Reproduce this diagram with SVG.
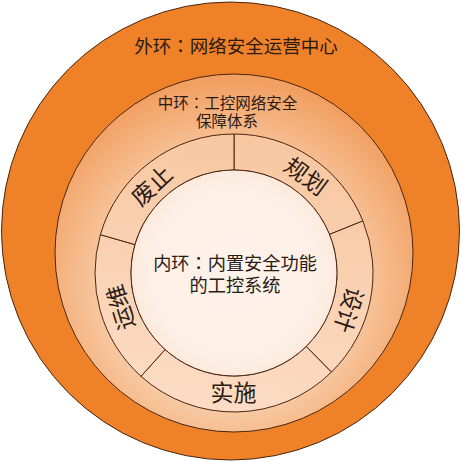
<svg xmlns="http://www.w3.org/2000/svg" width="461" height="462" viewBox="0 0 461 462">
<defs>
<radialGradient id="gMid" gradientUnits="userSpaceOnUse" cx="230" cy="285" r="205">
<stop offset="0.6" stop-color="#F8CBA6"/>
<stop offset="1" stop-color="#F2A062"/>
</radialGradient>
<linearGradient id="gSeg" gradientUnits="userSpaceOnUse" x1="260" y1="134" x2="210" y2="412">
<stop offset="0" stop-color="#F8C7A0"/>
<stop offset="1" stop-color="#FBDCC5"/>
</linearGradient>
<radialGradient id="gIn" gradientUnits="userSpaceOnUse" cx="234" cy="273" r="103">
<stop offset="0" stop-color="#FDF3EC"/>
<stop offset="0.85" stop-color="#FDEFE5"/>
<stop offset="1" stop-color="#FCE9DB"/>
</radialGradient>
</defs>
<style>
.ln{stroke:#4a2511;stroke-width:1}
.t{font-family:"Noto Sans CJK SC","Noto Sans CJK JP",sans-serif;fill:#2a1a12;text-anchor:middle}
.c{font-family:"Noto Sans CJK TC","Noto Sans CJK SC",sans-serif}
.seg{fill:url(#gSeg)}
</style>
<rect width="461" height="462" fill="#ffffff"/>
<g id="outer-ring">
<circle class="ln" cx="230.5" cy="231" r="229" fill="#EF8229"/>
<text class="t" x="236" y="53" font-size="18.5">外环<tspan class="c">：</tspan>网络安全运营中心</text>
</g>
<g id="middle-ring">
<circle class="ln" cx="234" cy="253" r="179" fill="url(#gMid)"/>
<text class="t" x="227.5" y="109" font-size="15.5">中环<tspan class="c">：</tspan>工控网络安全</text>
<text class="t" x="227" y="127" font-size="15.5">保障体系</text>
</g>
<g id="seg-guihua">
<path class="ln seg" d="M234,134 A139,139 0 0 1 362.88,220.93 L329.50,234.42 A103,103 0 0 0 234,170 Z"/>
<text class="t" font-size="23" transform="translate(305.4,176.6) rotate(36.5)" y="8">规划</text>
</g>
<g id="seg-sheji">
<path class="ln seg" d="M362.88,220.93 A139,139 0 0 1 331.43,372.14 L306.19,346.46 A103,103 0 0 0 329.50,234.42 Z"/>
<text class="t" font-size="23" transform="translate(348.5,310) rotate(108)" y="8">设计</text>
</g>
<g id="seg-shishi">
<path class="ln seg" d="M331.43,372.14 A139,139 0 0 1 140.99,376.30 L165.08,349.54 A103,103 0 0 0 306.19,346.46 Z"/>
<text class="t" font-size="23" transform="translate(233.5,393)" y="8">实施</text>
</g>
<g id="seg-yunwei">
<path class="ln seg" d="M140.99,376.30 A139,139 0 0 1 100.38,234.69 L134.99,244.61 A103,103 0 0 0 165.08,349.54 Z"/>
<text class="t" font-size="23" transform="translate(121,307) rotate(-107)" y="8">运维</text>
</g>
<g id="seg-feizhi">
<path class="ln seg" d="M100.38,234.69 A139,139 0 0 1 234,134 L234,170 A103,103 0 0 0 134.99,244.61 Z"/>
<text class="t" font-size="23" transform="translate(152,186) rotate(-43)" y="8">废止</text>
</g>
<g id="inner-ring">
<circle class="ln" cx="234" cy="273" r="103" fill="url(#gIn)"/>
<text class="t" x="235" y="270" font-size="18.2">内环<tspan class="c">：</tspan>内置安全功能</text>
<text class="t" x="235" y="292" font-size="18.2">的工控系统</text>
</g>
<g id="connectors"></g>
</svg>
